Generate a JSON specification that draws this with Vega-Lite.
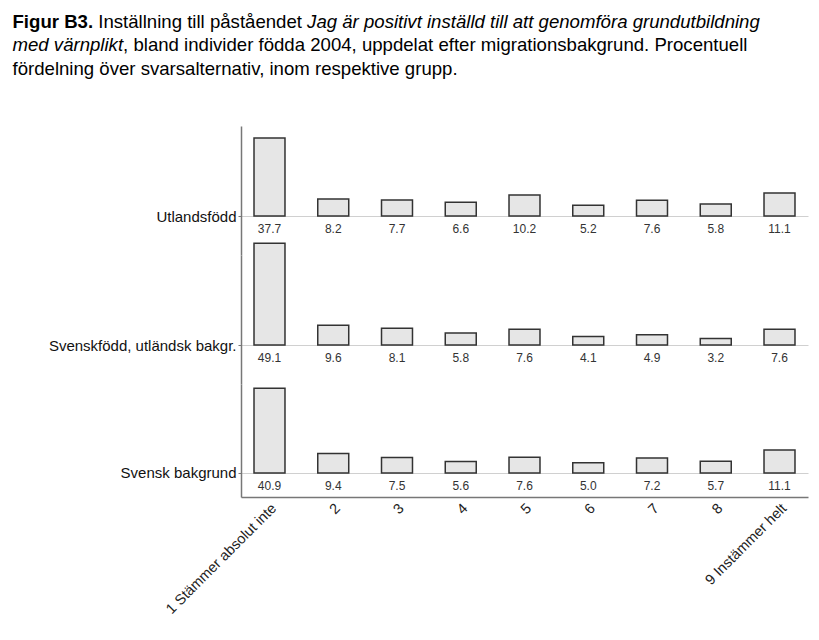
{
  "$schema": "https://vega.github.io/schema/vega-lite/v6.json",
  "background": "white",
  "padding": {"left": 12, "top": 12, "right": 5, "bottom": 5},
  "bounds": "flush",
  "datasets": {
    "d": [
      {"group": "Utlandsfödd", "svar": "1 Stämmer absolut inte", "pct": 37.7},
      {"group": "Utlandsfödd", "svar": "2", "pct": 8.2},
      {"group": "Utlandsfödd", "svar": "3", "pct": 7.7},
      {"group": "Utlandsfödd", "svar": "4", "pct": 6.6},
      {"group": "Utlandsfödd", "svar": "5", "pct": 10.2},
      {"group": "Utlandsfödd", "svar": "6", "pct": 5.2},
      {"group": "Utlandsfödd", "svar": "7", "pct": 7.6},
      {"group": "Utlandsfödd", "svar": "8", "pct": 5.8},
      {"group": "Utlandsfödd", "svar": "9 Instämmer helt", "pct": 11.1},
      {"group": "Svenskfödd, utländsk bakgr.", "svar": "1 Stämmer absolut inte", "pct": 49.1},
      {"group": "Svenskfödd, utländsk bakgr.", "svar": "2", "pct": 9.6},
      {"group": "Svenskfödd, utländsk bakgr.", "svar": "3", "pct": 8.1},
      {"group": "Svenskfödd, utländsk bakgr.", "svar": "4", "pct": 5.8},
      {"group": "Svenskfödd, utländsk bakgr.", "svar": "5", "pct": 7.6},
      {"group": "Svenskfödd, utländsk bakgr.", "svar": "6", "pct": 4.1},
      {"group": "Svenskfödd, utländsk bakgr.", "svar": "7", "pct": 4.9},
      {"group": "Svenskfödd, utländsk bakgr.", "svar": "8", "pct": 3.2},
      {"group": "Svenskfödd, utländsk bakgr.", "svar": "9 Instämmer helt", "pct": 7.6},
      {"group": "Svensk bakgrund", "svar": "1 Stämmer absolut inte", "pct": 40.9},
      {"group": "Svensk bakgrund", "svar": "2", "pct": 9.4},
      {"group": "Svensk bakgrund", "svar": "3", "pct": 7.5},
      {"group": "Svensk bakgrund", "svar": "4", "pct": 5.6},
      {"group": "Svensk bakgrund", "svar": "5", "pct": 7.6},
      {"group": "Svensk bakgrund", "svar": "6", "pct": 5.0},
      {"group": "Svensk bakgrund", "svar": "7", "pct": 7.2},
      {"group": "Svensk bakgrund", "svar": "8", "pct": 5.7},
      {"group": "Svensk bakgrund", "svar": "9 Instämmer helt", "pct": 11.1}
    ]
  },
  "spacing": 0,
  "vconcat": [
    {
      "width": 567, "height": 129,
      "data": {"name": "d"},
      "transform": [{"filter": "datum.group === 'Utlandsfödd'"}],
      "encoding": {
        "x": {"field": "svar", "type": "ordinal", "sort": null, "scale": {"paddingInner": 0.514, "paddingOuter": 0.204},
          "axis": {"orient": "top", "labels": false, "ticks": false, "domain": false, "grid": false,
            "title": "Inställning till påståendet", "titleX": -143.2, "titleY": -99, "titleAngle": 0, "titleAlign": "left", "titleBaseline": "alphabetic", "titleFontSize": 18.6, "titleFontWeight": "normal", "titleColor": "#000000"}}
      },
      "layer": [
        {
          "mark": {"type": "bar", "fill": "#e6e6e6", "stroke": "#333333", "strokeWidth": 1.5},
          "encoding": {
            "y": {"field": "pct", "type": "quantitative", "scale": {"domain": [-18.84, 43.48], "nice": false},
              "axis": {"values": [0], "labelExpr": "'Utlandsfödd'", "labelLimit": 0, "grid": true, "gridColor": "#d0d0d0", "domainColor": "#777777", "domainWidth": 1.5, "tickColor": "#777777", "tickSize": 3, "labelFontSize": 15, "labelColor": "#111111", "labelPadding": 2,
                "title": "Figur B3.", "titleX": -229, "titleY": -99, "titleAngle": 0, "titleAlign": "left", "titleBaseline": "alphabetic", "titleFontSize": 18.6, "titleFontWeight": "bold", "titleColor": "#000000"}},
            "y2": {"datum": 0}
          }
        },
        {
          "mark": {"type": "text", "dy": 13, "fontSize": 12, "color": "#333333"},
          "encoding": {"y": {"datum": 0}, "text": {"field": "pct", "type": "quantitative", "format": ".1f"}}
        }
      ]
    },
    {
      "width": 567, "height": 129,
      "data": {"name": "d"},
      "transform": [{"filter": "datum.group === 'Svenskfödd, utländsk bakgr.'"}],
      "encoding": {
        "x": {"field": "svar", "type": "ordinal", "sort": null, "scale": {"paddingInner": 0.514, "paddingOuter": 0.204},
          "axis": {"orient": "top", "labels": false, "ticks": false, "domain": false, "grid": false,
            "title": "Jag är positivt inställd till att genomföra grundutbildning", "titleX": 65.6, "titleY": -228, "titleAngle": 0, "titleAlign": "left", "titleBaseline": "alphabetic", "titleFontSize": 18.6, "titleFontWeight": "normal", "titleFontStyle": "italic", "titleColor": "#000000"}}
      },
      "layer": [
        {
          "mark": {"type": "bar", "fill": "#e6e6e6", "stroke": "#333333", "strokeWidth": 1.5},
          "encoding": {
            "y": {"field": "pct", "type": "quantitative", "scale": {"domain": [-18.84, 43.48], "nice": false},
              "axis": {"values": [0], "labelExpr": "'Svenskfödd, utländsk bakgr.'", "labelLimit": 0, "grid": true, "gridColor": "#d0d0d0", "domainColor": "#777777", "domainWidth": 1.5, "tickColor": "#777777", "tickSize": 3, "labelFontSize": 15, "labelColor": "#111111", "labelPadding": 2,
                "title": "med värnplikt", "titleX": -229, "titleY": -204.5, "titleAngle": 0, "titleAlign": "left", "titleBaseline": "alphabetic", "titleFontSize": 18.6, "titleFontWeight": "normal", "titleFontStyle": "italic", "titleColor": "#000000"}},
            "y2": {"datum": 0}
          }
        },
        {
          "mark": {"type": "text", "dy": 13, "fontSize": 12, "color": "#333333"},
          "encoding": {"y": {"datum": 0}, "text": {"field": "pct", "type": "quantitative", "format": ".1f"}}
        }
      ]
    },
    {
      "width": 567, "height": 113,
      "data": {"name": "d"},
      "transform": [{"filter": "datum.group === 'Svensk bakgrund'"}],
      "encoding": {
        "x": {"field": "svar", "type": "ordinal", "sort": null, "scale": {"paddingInner": 0.514, "paddingOuter": 0.204},
          "axis": {"labelAngle": -45, "ticks": false, "domainColor": "#777777", "domainWidth": 1.5, "labelFontSize": 14.5, "labelColor": "#222222", "labelPadding": 4,
            "title": ", bland individer födda 2004, uppdelat efter migrationsbakgrund. Procentuell", "titleX": -118.4, "titleY": -446.5, "titleAngle": 0, "titleAlign": "left", "titleBaseline": "alphabetic", "titleFontSize": 18.6, "titleFontWeight": "normal", "titleColor": "#000000"}}
      },
      "layer": [
        {
          "mark": {"type": "bar", "fill": "#e6e6e6", "stroke": "#333333", "strokeWidth": 1.5},
          "encoding": {
            "y": {"field": "pct", "type": "quantitative", "scale": {"domain": [-11.6, 43.0], "nice": false},
              "axis": {"values": [0], "labelExpr": "'Svensk bakgrund'", "labelLimit": 0, "grid": true, "gridColor": "#d0d0d0", "domainColor": "#777777", "domainWidth": 1.5, "tickColor": "#777777", "tickSize": 3, "labelFontSize": 15, "labelColor": "#111111", "labelPadding": 2,
                "title": "fördelning över svarsalternativ, inom respektive grupp.", "titleX": -229, "titleY": -310, "titleAngle": 0, "titleAlign": "left", "titleBaseline": "alphabetic", "titleFontSize": 18.6, "titleFontWeight": "normal", "titleColor": "#000000"}},
            "y2": {"datum": 0}
          }
        },
        {
          "mark": {"type": "text", "dy": 13, "fontSize": 12, "color": "#333333"},
          "encoding": {"y": {"datum": 0}, "text": {"field": "pct", "type": "quantitative", "format": ".1f"}}
        }
      ]
    }
  ],
  "config": {"view": {"stroke": null}, "font": "Liberation Sans"}
}
